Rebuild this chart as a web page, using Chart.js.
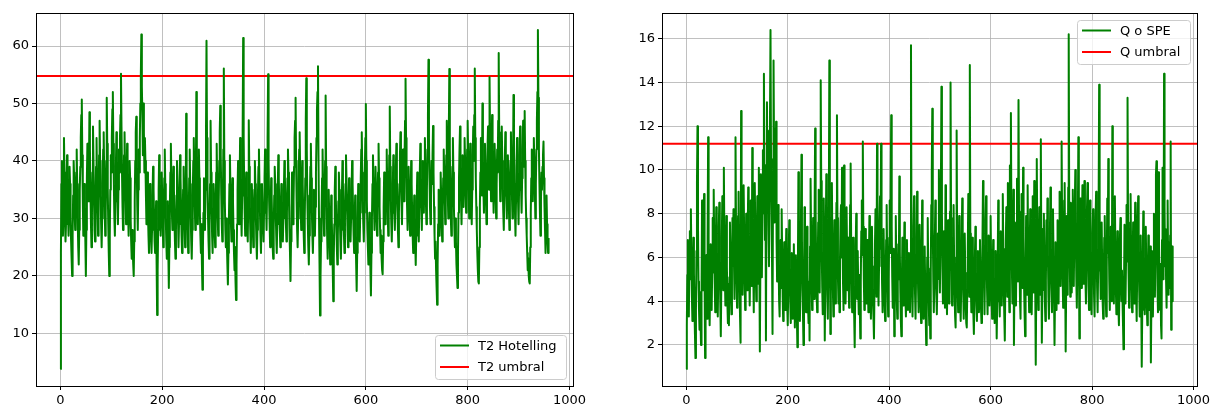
<!DOCTYPE html>
<html>
<head>
<meta charset="utf-8">
<script src="https://cdn.jsdelivr.net/npm/chart.js@4.4.0/dist/chart.umd.min.js"></script>
<style>
  html, body { margin: 0; padding: 0; background: #fff; }
  #wrap { position: relative; width: 1224px; height: 409px; }
  canvas { position: absolute; top: 0; }
</style>
</head>
<body>
<div id="wrap">
  <canvas id="t2Chart" width="612" height="409" style="left:0"></canvas>
  <canvas id="qChart" width="612" height="409" style="left:612px"></canvas>
</div>
<script>
// T2 de Hotelling por observacion
const t2 = [
  3.8, 24, 36, 40, 33, 27, 31, 44, 38, 30, 26, 29, 35, 41, 37, 31, 27, 33, 39, 36,
  30, 26, 23, 20, 27, 34, 40, 37, 31, 28, 32, 38, 42, 36, 30, 25, 22, 28, 35, 39,
  44, 48, 50.7, 41, 33, 27, 30, 36, 32, 26, 20, 28, 37, 43, 39, 33, 38, 48.5, 42, 35,
  29, 25, 31, 38, 46, 40, 33, 28, 26, 32, 39, 44, 37, 31, 27, 33, 41, 47, 40, 34,
  29, 25, 30, 36, 42, 45, 38, 32, 27, 31, 40, 51, 43, 35, 29, 24, 20, 27, 35, 41,
  38, 44, 49, 52, 43, 36, 30, 27, 33, 39, 45, 40, 34, 29, 35, 42, 38, 44, 48, 55.2,
  46, 38, 32, 28, 34, 41, 45, 39, 33, 29, 36, 43, 38, 31, 27, 33, 40, 37, 30, 26,
  23, 28, 25, 22, 20, 26, 33, 40, 45, 47.7, 39, 32, 28, 35, 42, 38, 44, 50, 55, 62,
  53, 48, 41, 50, 45, 38, 44, 40, 34, 29, 33, 38, 31, 27, 24, 29, 36, 32, 27, 24,
  28, 34, 39, 35, 30, 26, 24, 29, 33, 22, 13.2, 21, 28, 35, 41, 36, 31, 27, 33, 38,
  34, 29, 25, 31, 37, 42, 36, 30, 26, 23, 27, 33, 24, 17.9, 25, 32, 38, 43, 37, 31,
  28, 32, 39, 35, 30, 26, 23, 28, 34, 40, 36, 30, 25, 29, 35, 41, 37, 32, 27, 24,
  29, 35, 39, 34, 28, 25, 31, 48.2, 38, 32, 28, 24, 30, 37, 42, 36, 30, 26, 23, 28,
  34, 40, 44, 38, 32, 28, 35, 52, 41, 34, 29, 36, 42, 37, 31, 27, 24, 29, 22, 17.6,
  25, 31, 37, 33, 28, 35, 45, 60.9, 44, 36, 30, 26, 23, 29, 36, 47, 38, 32, 27, 24,
  30, 36, 33, 28, 25, 31, 38, 43, 36, 30, 27, 33, 40, 45, 49.6, 41, 34, 29, 26, 31,
  42, 56.1, 40, 33, 28, 25, 30, 26, 22, 18.5, 24, 30, 36, 41, 35, 29, 26, 32, 37, 33,
  28, 24, 21, 25, 19, 15.8, 22, 29, 35, 40, 34, 29, 36, 44, 37, 31, 27, 34, 45, 61.4,
  44, 36, 31, 27, 33, 38, 34, 29, 26, 33, 47.1, 39, 32, 28, 24, 30, 36, 33, 28, 25,
  29, 35, 40, 36, 30, 26, 23, 28, 34, 39, 42, 36, 31, 27, 24, 30, 36, 33, 29, 26,
  31, 37, 42, 38, 32, 28, 35, 44, 55.1, 40, 33, 29, 25, 31, 37, 34, 29, 25, 23, 28,
  34, 39, 36, 31, 27, 24, 29, 35, 41, 37, 32, 28, 25, 31, 36, 33, 28, 26, 30, 35,
  40, 37, 33, 29, 26, 31, 37, 42, 38, 33, 28, 24, 19.1, 26, 32, 38, 34, 29, 33, 39,
  44, 47, 51, 40, 33, 28, 25, 30, 36, 42, 45, 38, 32, 28, 34, 40, 36, 31, 27, 24,
  30, 37, 47, 54.4, 42, 34, 29, 25, 22, 27, 33, 39, 43, 37, 31, 27, 24, 29, 35, 31,
  27, 32, 38, 44, 49, 52, 56.5, 41, 30, 22, 13.1, 20, 26, 31, 37, 42, 36, 30, 27, 33,
  40, 51.4, 39, 32, 27, 23, 29, 35, 31, 26, 22, 28, 34, 30, 26, 21, 15.6, 23, 29, 35,
  39, 34, 29, 25, 22, 27, 33, 38, 35, 30, 26, 23, 28, 34, 40, 36, 31, 27, 24, 30,
  36, 41, 37, 32, 28, 25, 31, 37, 33, 29, 26, 30, 35, 40, 36, 31, 27, 24, 29, 34,
  27, 22, 17.4, 24, 30, 36, 33, 28, 26, 31, 37, 42, 45, 38, 33, 29, 26, 31, 38, 44,
  49.9, 40, 33, 28, 25, 22, 26, 31, 27, 21, 16.6, 24, 30, 36, 41, 37, 32, 28, 34, 39,
  35, 30, 27, 33, 38, 43, 37, 32, 28, 24, 27, 23, 21, 20.3, 26, 32, 38, 34, 29, 33,
  38, 42, 36, 31, 27, 34, 41, 49.5, 39, 33, 29, 26, 31, 36, 41, 37, 32, 28, 33, 39,
  43, 37, 32, 28, 25, 31, 36, 41, 45, 38, 33, 29, 35, 42, 38, 33, 40, 47, 54.3, 44,
  37, 32, 28, 34, 39, 35, 30, 27, 33, 40, 36, 31, 27, 24, 29, 34, 30, 26, 21.9, 27,
  33, 38, 35, 30, 26, 32, 38, 43, 37, 32, 28, 34, 40, 36, 31, 38, 44, 38, 33, 29,
  35, 42, 48, 57.6, 44, 37, 32, 29, 34, 40, 36, 41, 46.1, 38, 32, 27, 23, 26, 21, 18,
  15, 22, 29, 35, 31, 27, 33, 38, 34, 29, 26, 32, 37, 42, 38, 33, 29, 35, 41, 47,
  40, 34, 30, 45, 56, 42, 35, 30, 27, 33, 39, 44, 38, 32, 28, 25, 30, 26, 22, 20,
  17.9, 24, 31, 37, 42, 46, 39, 33, 29, 35, 41, 37, 32, 38, 44, 40, 35, 31, 36, 42,
  47, 41, 35, 30, 36, 43, 39, 33, 29, 35, 41, 46, 40, 48, 56.1, 44, 37, 32, 28, 24,
  21, 19, 18.7, 25, 32, 38, 44, 39, 34, 50, 40, 35, 31, 37, 43, 38, 33, 29, 36, 42,
  46, 40, 35, 54.6, 45, 38, 33, 41, 48, 42, 36, 31, 37, 43, 39, 34, 30, 36, 42, 38,
  47, 58.8, 45, 38, 33, 37, 42, 46, 40, 35, 31, 28, 34, 40, 45, 39, 34, 30, 36, 41,
  37, 32, 28, 34, 40, 45, 39, 34, 30, 37, 51.5, 42, 36, 31, 27, 33, 39, 44, 38, 33,
  29, 35, 41, 46, 40, 35, 31, 37, 42, 47, 44, 39, 48.7, 40, 34, 30, 27, 24, 21, 23,
  20, 19, 18.7, 25, 31, 37, 42, 38, 33, 39, 44, 40, 35, 30, 36, 42, 47, 52, 62.8, 51,
  42, 36, 31, 27, 33, 38, 35, 39, 41, 43.4, 37, 32, 28, 24, 30, 34, 29, 26, 24, 26.6
];

// estadistico Q (SPE) por observacion
const q = [
  0.9, 2.9, 5.2, 6.8, 4.6, 3.3, 5.9, 7.2, 5.0, 8.2, 6.1, 4.2, 3.1, 4.8, 6.9, 5.3, 3.7, 2.5, 1.4, 3.6,
  6.3, 9.4, 12.0, 7.5, 4.9, 3.6, 2.7, 4.4, 3.1, 2.0, 4.3, 8.6, 6.2, 4.5, 6.8, 8.9, 5.2, 1.4, 4.0, 6.1,
  4.5, 3.2, 6.9, 11.5, 6.4, 4.1, 2.9, 4.7, 6.6, 5.0, 3.6, 5.3, 7.8, 5.4, 9.1, 6.7, 4.8, 3.5, 5.9, 8.3,
  6.2, 4.4, 3.3, 5.1, 7.4, 8.5, 5.8, 3.9, 2.4, 4.6, 6.9, 8.8, 6.3, 4.5, 10.1, 7.0, 5.2, 3.8, 5.7, 7.9,
  5.6, 3.9, 3.0, 4.8, 2.9, 5.1, 7.6, 6.0, 4.3, 3.4, 5.5, 7.8, 6.4, 8.2, 5.7, 4.1, 6.3, 11.5, 7.4, 5.3,
  3.7, 5.6, 7.9, 9.0, 6.2, 4.4, 3.2, 2.1, 12.7, 8.1, 5.9, 4.3, 6.5, 9.3, 7.2, 5.1, 3.6, 5.4, 8.0, 6.1,
  4.5, 6.9, 9.2, 7.0, 5.3, 3.8, 5.6, 8.6, 6.4, 4.7, 11.0, 7.6, 5.4, 3.5, 6.2, 9.4, 7.1, 5.2, 4.0, 6.5,
  8.8, 6.6, 4.8, 10.1, 5.9, 1.7, 5.5, 9.8, 7.4, 5.1, 8.0, 10.9, 8.3, 14.4, 9.6, 6.8, 10.2, 2.2, 8.7, 13.1,
  9.2, 11.8, 7.5, 5.6, 9.0, 12.4, 16.4, 10.5, 8.2, 5.8, 2.5, 9.6, 15.0, 10.8, 7.6, 11.9, 8.3, 12.2, 6.7, 4.9,
  6.5, 8.4, 5.7, 4.0, 3.3, 5.2, 6.8, 4.6, 8.2, 6.1, 4.2, 3.1, 4.9, 6.7, 5.0, 3.6, 5.5, 7.3, 5.4, 3.8,
  2.9, 4.6, 6.4, 7.7, 5.5, 3.9, 3.0, 4.7, 6.2, 4.4, 3.2, 5.0, 6.6, 4.8, 2.8, 4.3, 6.1, 4.5, 3.3, 1.9,
  5.4, 9.9, 6.3, 4.2, 3.1, 5.0, 7.6, 10.7, 6.8, 4.5, 3.4, 2.0, 4.6, 8.3, 6.5, 4.7, 3.5, 5.6, 7.4, 5.2,
  3.8, 3.0, 4.9, 2.2, 6.5, 9.6, 7.2, 5.0, 3.6, 5.4, 7.8, 5.6, 4.1, 8.1, 11.9, 8.0, 5.8, 4.2, 3.5, 5.3,
  7.6, 9.1, 6.2, 4.4, 8.9, 14.1, 9.5, 6.3, 4.6, 3.4, 5.2, 8.7, 6.1, 2.2, 4.8, 7.1, 9.8, 6.5, 4.3, 3.2,
  5.5, 8.2, 15.0, 7.9, 2.5, 4.6, 6.8, 9.4, 6.6, 4.5, 3.3, 5.1, 7.7, 5.8, 3.9, 6.3, 8.5, 12.5, 7.8, 5.0,
  3.9, 5.7, 3.5, 5.9, 7.6, 8.4, 6.0, 10.1, 6.7, 4.8, 3.6, 10.2, 7.1, 5.2, 3.9, 5.8, 8.3, 6.2, 4.5, 6.9,
  5.1, 3.7, 5.5, 8.4, 10.3, 6.9, 4.8, 3.5, 5.0, 6.9, 4.7, 3.3, 1.9, 4.2, 6.5, 8.0, 5.8, 4.1, 6.3, 4.6,
  3.4, 5.2, 3.8, 2.3, 4.9, 7.2, 8.6, 6.1, 11.3, 7.4, 5.0, 3.6, 5.4, 7.3, 5.5, 3.9, 4.6, 6.8, 4.9, 3.5,
  5.7, 7.9, 6.0, 4.3, 3.2, 5.1, 7.4, 5.6, 4.0, 3.3, 2.3, 4.5, 6.6, 8.2, 6.0, 4.2, 11.2, 7.5, 5.3, 3.8,
  5.6, 7.7, 8.8, 6.4, 11.2, 6.9, 4.8, 3.5, 5.2, 7.3, 5.6, 3.9, 3.1, 4.7, 6.8, 8.4, 6.1, 4.4, 3.3, 5.0,
  6.9, 8.6, 6.2, 9.0, 12.5, 7.4, 5.1, 3.7, 4.9, 6.4, 2.4, 4.3, 6.1, 7.9, 5.7, 4.0, 3.2, 4.8, 6.6, 5.0,
  9.7, 6.3, 4.4, 3.1, 2.4, 4.7, 6.9, 5.2, 3.8, 5.5, 7.6, 5.9, 4.2, 3.3, 4.9, 6.8, 5.0, 3.6, 4.7, 6.2,
  4.4, 3.5, 5.8, 15.7, 6.9, 4.5, 3.3, 5.0, 7.4, 8.8, 6.2, 4.3, 3.2, 5.1, 6.9, 9.0, 6.4, 4.6, 3.5, 5.3,
  7.5, 5.4, 3.8, 3.0, 5.9, 8.6, 6.1, 4.3, 3.2, 4.8, 6.5, 4.7, 3.3, 2.0, 3.9, 6.0, 7.8, 5.5, 3.9, 2.9,
  4.1, 2.3, 5.3, 8.4, 9.9, 12.8, 7.3, 4.9, 3.5, 4.8, 6.8, 8.6, 6.0, 4.3, 3.4, 5.0, 7.1, 5.4, 10.0, 6.2,
  4.4, 6.6, 9.2, 13.8, 8.0, 5.5, 3.9, 5.3, 7.2, 5.1, 3.7, 9.3, 6.6, 4.6, 3.4, 5.2, 7.7, 5.5, 3.9, 6.0,
  8.1, 14.0, 7.8, 5.4, 3.8, 5.1, 6.9, 8.4, 6.0, 4.3, 3.3, 2.8, 5.7, 11.8, 6.8, 4.7, 3.5, 5.4, 7.9, 5.6,
  3.9, 3.1, 4.6, 6.8, 8.7, 6.2, 4.4, 3.2, 5.0, 7.1, 5.3, 3.8, 3.0, 2.8, 4.5, 6.4, 8.9, 6.3, 4.2, 14.8,
  7.1, 4.8, 3.5, 5.2, 6.9, 4.9, 3.4, 2.5, 4.2, 6.0, 7.4, 5.3, 3.8, 3.1, 4.6, 6.3, 4.7, 3.5, 5.1, 6.8,
  5.0, 3.7, 3.0, 4.8, 6.9, 9.5, 6.6, 4.6, 3.4, 5.5, 7.7, 8.8, 6.3, 4.5, 3.4, 5.0, 7.0, 5.2, 3.8, 5.6,
  7.9, 5.8, 4.1, 3.2, 4.9, 6.8, 5.1, 3.7, 3.0, 4.4, 6.3, 4.6, 2.3, 4.0, 5.9, 8.6, 6.2, 4.4, 3.3, 5.1,
  7.2, 5.3, 3.8, 5.6, 8.9, 6.4, 4.5, 3.3, 2.2, 4.7, 6.8, 8.3, 5.9, 4.2, 9.4, 6.6, 4.7, 3.5, 10.2, 7.3,
  12.6, 7.9, 5.4, 3.9, 6.1, 9.1, 2.0, 4.9, 7.6, 5.5, 3.8, 6.2, 9.6, 6.8, 4.9, 13.2, 8.1, 5.7, 4.0, 3.2,
  5.8, 8.9, 6.4, 4.6, 10.1, 6.9, 4.7, 3.4, 2.4, 4.8, 7.9, 6.0, 4.3, 9.3, 6.5, 4.6, 3.5, 5.6, 8.2, 6.0,
  4.3, 3.4, 5.3, 8.8, 6.3, 4.4, 9.5, 6.8, 4.5, 1.1, 4.6, 10.5, 7.2, 5.0, 3.6, 5.4, 8.3, 6.0, 4.3, 11.4,
  6.2, 2.1, 4.5, 7.3, 5.4, 8.0, 5.7, 4.0, 3.1, 4.9, 7.7, 5.6, 8.7, 6.1, 4.2, 3.2, 5.0, 7.3, 9.2, 6.4,
  4.6, 3.5, 5.9, 8.2, 6.1, 4.3, 2.0, 4.2, 6.7, 5.0, 3.6, 5.4, 7.7, 5.6, 3.9, 6.4, 9.0, 6.6, 4.7, 6.8,
  11.3, 7.5, 5.2, 3.7, 6.2, 8.6, 9.4, 5.1, 1.7, 4.6, 7.9, 5.8, 4.3, 9.2, 16.2, 8.4, 5.9, 4.2, 8.5, 6.0,
  4.4, 7.7, 9.1, 6.5, 4.7, 6.9, 8.3, 10.0, 7.0, 5.0, 3.7, 5.6, 7.5, 11.5, 7.3, 2.3, 5.6, 8.7, 6.2, 4.6,
  6.8, 9.3, 6.7, 4.8, 7.5, 9.5, 6.9, 5.0, 3.9, 6.1, 8.2, 9.4, 6.6, 4.7, 3.6, 5.8, 8.6, 6.3, 4.5, 3.4,
  5.3, 7.1, 8.2, 5.9, 4.2, 3.3, 5.5, 7.8, 9.0, 6.4, 4.6, 3.5, 5.4, 8.4, 13.9, 8.1, 5.7, 4.1, 6.4, 7.6,
  5.5, 3.9, 3.2, 4.8, 6.9, 7.9, 5.7, 4.1, 3.3, 5.5, 8.7, 6.2, 10.5, 7.0, 4.9, 3.6, 5.3, 7.4, 5.5, 4.0,
  12.0, 7.6, 5.4, 3.9, 5.8, 8.8, 6.3, 4.5, 3.4, 5.1, 7.2, 5.2, 3.7, 2.9, 4.6, 6.9, 7.8, 5.6, 4.0, 5.4,
  4.1, 3.0, 1.8, 4.5, 7.5, 5.5, 3.9, 5.8, 8.4, 6.3, 13.3, 7.6, 5.3, 3.7, 5.2, 7.3, 8.9, 6.4, 4.5, 3.5,
  5.4, 7.6, 5.5, 3.9, 6.1, 8.5, 6.2, 4.4, 3.1, 5.3, 7.9, 8.8, 6.3, 4.5, 3.3, 5.2, 7.0, 4.1, 1.0, 3.6,
  5.7, 8.1, 6.0, 4.3, 3.4, 5.5, 7.4, 5.3, 3.8, 2.9, 4.8, 7.0, 5.1, 3.6, 4.9, 6.5, 1.2, 3.9, 6.3, 4.5,
  3.3, 5.2, 8.0, 6.1, 4.2, 6.9, 9.8, 10.4, 6.7, 4.7, 3.5, 9.9, 6.9, 4.8, 3.6, 5.7, 2.9, 2.3, 6.8, 10.1,
  7.2, 5.0, 14.4, 8.3, 5.6, 7.3, 4.9, 3.7, 6.2, 8.6, 5.9, 4.3, 6.7, 4.6, 7.0, 11.3, 2.7, 4.9, 6.5, 4.0
];

const t2Limit = 54.8;   // umbral T2
const qLimit = 11.2;    // umbral Q

const xTicks = [0, 200, 400, 600, 800, 1000];
const t2Ticks = [10, 20, 30, 40, 50, 60];
const qTicks = [2, 4, 6, 8, 10, 12, 14, 16];

Chart.defaults.font.family = "'DejaVu Sans', sans-serif";
Chart.defaults.font.size = 13;
Chart.defaults.color = '#000';

// same 5% margins as matplotlib autoscale
function withMargin(lo, hi) {
  const m = (hi - lo) * 0.05;
  return [lo - m, hi + m];
}

// black box around the plot area
const frame = {
  id: 'frame',
  afterDatasetsDraw(chart) {
    const a = chart.chartArea, ctx = chart.ctx;
    ctx.save();
    ctx.strokeStyle = '#000';
    ctx.lineWidth = 1;
    const l = Math.floor(a.left) + 0.5, t = Math.floor(a.top) + 0.5;
    ctx.strokeRect(l, t, Math.round(a.right - a.left), Math.round(a.bottom - a.top));
    ctx.restore();
  }
};

// legend box inside the plot, lower or upper right corner
const boxLegend = {
  id: 'boxLegend',
  afterDraw(chart, args, opts) {
    const ctx = chart.ctx, a = chart.chartArea;
    const sets = chart.data.datasets;
    ctx.save();
    ctx.font = "13px 'DejaVu Sans'";
    const textW = Math.max(...sets.map(d => ctx.measureText(d.label).width));
    const w = Math.round(43 + textW + 10), h = 44;
    const x = Math.round(a.right - 7 - w);
    const y = opts.corner === 'top' ? Math.round(a.top + 7) : Math.round(a.bottom - 7 - h);
    ctx.fillStyle = 'rgba(255,255,255,0.8)';
    ctx.strokeStyle = '#cccccc';
    ctx.lineWidth = 1;
    ctx.beginPath();
    ctx.roundRect(x + 0.5, y + 0.5, w, h, 3);
    ctx.fill();
    ctx.stroke();
    sets.forEach((d, i) => {
      const ly = y + 10.5 + i * 21.5;
      ctx.strokeStyle = d.borderColor;
      ctx.lineWidth = 2;
      ctx.beginPath();
      ctx.moveTo(x + 5, ly);
      ctx.lineTo(x + 34, ly);
      ctx.stroke();
      ctx.fillStyle = '#000';
      ctx.textBaseline = 'middle';
      ctx.fillText(d.label, x + 43, ly + 1);
    });
    ctx.restore();
  }
};

function makeChart(id, values, limit, label, limitLabel, yTicks, yWidth, padRight, corner) {
  const n = values.length;
  const xr = withMargin(0, n - 1);
  const yr = withMargin(Math.min(...values, limit), Math.max(...values, limit));
  const grid = { color: '#b0b0b0', lineWidth: 0.8, tickColor: '#000', tickWidth: 1, tickLength: 4 };

  return new Chart(document.getElementById(id), {
    type: 'line',
    data: {
      datasets: [
        {
          label: label,
          data: values.map((v, i) => ({ x: i, y: v })),
          borderColor: 'green',
          borderWidth: 2,
          borderJoinStyle: 'round',
          pointRadius: 0,
          tension: 0
        },
        {
          label: limitLabel,
          data: [{ x: xr[0], y: limit }, { x: xr[1], y: limit }],
          borderColor: 'red',
          borderWidth: 2,
          pointRadius: 0
        }
      ]
    },
    options: {
      responsive: false,
      animation: false,
      events: [],
      layout: { padding: { left: 0, right: padRight, top: 13, bottom: 0 } },
      scales: {
        x: {
          type: 'linear',
          min: xr[0],
          max: xr[1],
          afterBuildTicks: s => { s.ticks = xTicks.map(v => ({ value: v })); },
          afterFit: s => { s.height = 23; },
          grid: grid,
          border: { display: false },
          ticks: { padding: 3, maxRotation: 0, autoSkip: false, callback: v => String(v) }
        },
        y: {
          type: 'linear',
          min: yr[0],
          max: yr[1],
          afterBuildTicks: s => { s.ticks = yTicks.map(v => ({ value: v })); },
          afterFit: s => { s.width = yWidth; },
          grid: grid,
          border: { display: false },
          ticks: { padding: 3, autoSkip: false, callback: v => String(v) }
        }
      },
      plugins: {
        legend: { display: false },
        tooltip: { enabled: false },
        boxLegend: { corner: corner }
      }
    },
    plugins: [frame, boxLegend]
  });
}

makeChart('t2Chart', t2, t2Limit, 'T2 Hotelling', 'T2 umbral', t2Ticks, 36, 39, 'bottom');
makeChart('qChart', q, qLimit, 'Q o SPE', 'Q umbral', qTicks, 50, 27, 'top');
</script>
</body>
</html>
